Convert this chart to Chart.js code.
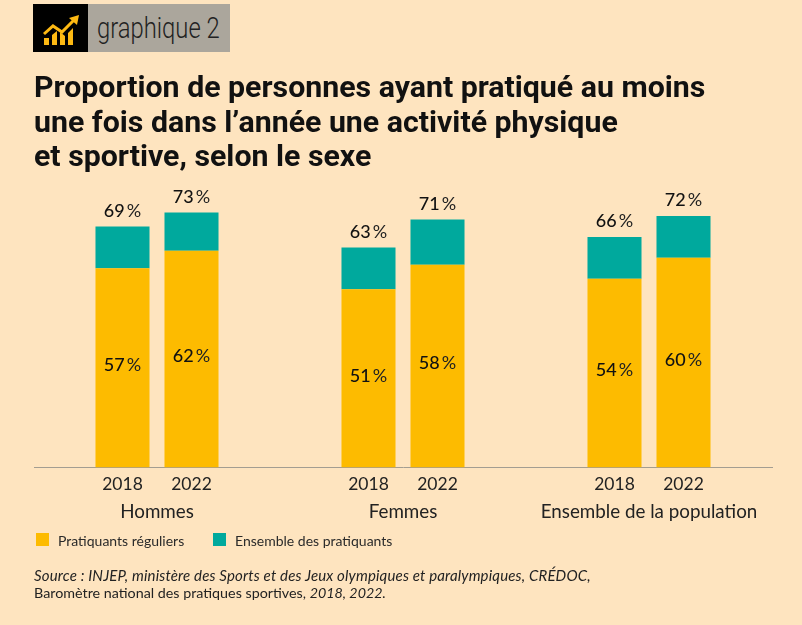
<!DOCTYPE html>
<html lang="fr">
<head>
<meta charset="utf-8">
<title>graphique 2</title>
<script src="https://cdn.jsdelivr.net/npm/chart.js@4"></script>
<style>
html, body { margin: 0; padding: 0; background: #fff; }
#page { position: relative; width: 802px; height: 625px; overflow: hidden; background: #fee4bf; font-family: Lato, sans-serif; color: #1a1a1a; }
#chart { position: absolute; left: 0; top: 0; }
#badge { position: absolute; left: 33px; top: 4px; width: 197px; height: 48px; background: #aba69c; }
#badge .icon { position: absolute; left: 0; top: 0; width: 55px; height: 48px; background: #000; }
#badge .label { position: absolute; left: 64px; top: 7px; font: 300 29px Roboto, sans-serif; color: #222; transform: scaleX(.82); transform-origin: left top; white-space: nowrap; }
h1 { position: absolute; left: 34px; top: 70px; margin: 0; font: 700 30.3px/34.5px Roboto, sans-serif; color: #111; white-space: nowrap; }
#legend { position: absolute; left: 36px; top: 533px; font-size: 14px; color: #2a2a2a; }
#legend span { position: absolute; top: -1px; white-space: nowrap; }
#legend i { position: absolute; top: 0; width: 13px; height: 13px; }
#source { position: absolute; left: 34px; top: 567px; font-size: 14.3px; line-height: 17px; color: #222; white-space: nowrap; }
#source .first { font-size: 15px; letter-spacing: .16px; }
</style>
</head>
<body>
<div id="page">
  <canvas id="chart" width="802" height="625"></canvas>
  <div id="badge">
    <div class="icon">
      <svg width="55" height="48" viewBox="0 0 55 48">
        <path d="M11 41v-7h5v7zM19 41V31l5-4v14zM27 41V28l5 4v9zM35 41V29l5-5v17z" fill="#fdb913"/>
        <path d="M11 30l9-8 9 6 13-13" fill="none" stroke="#fdb913" stroke-width="3"/>
        <path d="M36 14l10-3-2 10z" fill="#fdb913"/>
      </svg>
    </div>
    <div class="label">graphique 2</div>
  </div>
  <h1>Proportion de personnes ayant pratiqué au moins<br>une fois dans l’année une activité physique<br>et sportive, selon le sexe</h1>
  <div id="legend"></div>
  <div id="source"><em class="first">Source : INJEP, ministère des Sports et des Jeux olympiques et paralympiques, CRÉDOC,</em><br>Baromètre national des pratiques sportives, <em>2018, 2022.</em></div>
</div>
<script>
const categories = ['Hommes', 'Femmes', 'Ensemble de la population'];
const years = ['2018', '2022'];
const regular2018 = [57, 51, 54];
const regular2022 = [62, 58, 60];
const total2018 = [69, 63, 66];
const total2022 = [73, 71, 72];
const seriesNames = ['Pratiquants réguliers', 'Ensemble des pratiquants'];

const YELLOW = '#fdbb00';
const TEAL = '#00a99d';

const pct = (ctx, number, x, y, size) => {
    ctx.textBaseline = 'middle';
    ctx.textAlign = 'left';
    ctx.font = `500 ${size}px Lato, sans-serif`;
    const w1 = ctx.measureText(number).width;
    ctx.font = `400 ${size}px Lato, sans-serif`;
    const w2 = ctx.measureText('%').width;
    const start = x - (w1 + 2 + w2) / 2;
    ctx.font = `500 ${size}px Lato, sans-serif`;
    ctx.fillStyle = '#111';
    ctx.fillText(number, start, y);
    ctx.font = `400 ${size}px Lato, sans-serif`;
    ctx.fillStyle = '#222';
    ctx.fillText('%', start + w1 + 2, y);
};

const barLabels = {
    id: 'barLabels',
    afterDatasetsDraw(chart) {
        const ctx = chart.ctx;
        ctx.save();
        [[0, 1, regular2018, total2018, 0], [2, 3, regular2022, total2022, 1]].forEach(([low, high, regular, total, y]) => {
            const lowBars = chart.getDatasetMeta(low).data;
            const highBars = chart.getDatasetMeta(high).data;
            lowBars.forEach((bar, i) => {
                pct(ctx, String(regular[i]), bar.x, (bar.y + bar.base) / 2 - 2.5, 18);
                pct(ctx, String(total[i]), bar.x, highBars[i].y - 15.5, 18);
                ctx.font = '400 17.5px Lato, sans-serif';
                ctx.textAlign = 'center';
                ctx.fillStyle = '#222';
                ctx.fillText(years[y], bar.x, bar.base + 16.5);
            });
        });
        ctx.restore();
    }
};

const chart = new Chart(document.getElementById('chart'), {
    type: 'bar',
    data: {
        labels: categories,
        datasets: [
            { label: seriesNames[0], stack: years[0], data: regular2018, backgroundColor: YELLOW },
            { label: seriesNames[1], stack: years[0], data: total2018.map((v, i) => v - regular2018[i]), backgroundColor: TEAL },
            { label: seriesNames[0], stack: years[1], data: regular2022, backgroundColor: YELLOW },
            { label: seriesNames[1], stack: years[1], data: total2022.map((v, i) => v - regular2022[i]), backgroundColor: TEAL }
        ]
    },
    options: {
        responsive: false,
        animation: false,
        categoryPercentage: 0.561,
        barPercentage: 0.783,
        layout: { padding: { left: 34, right: 30, top: 188, bottom: 69 } },
        plugins: { legend: { display: false }, tooltip: { enabled: false } },
        scales: {
            x: {
                stacked: true,
                grid: { display: false, drawTicks: false },
                border: { color: '#a39d91' },
                ticks: { padding: 33, color: '#222', maxRotation: 0, font: { family: 'Lato, sans-serif', size: 18.8 } }
            },
            y: { stacked: true, display: false, min: 0, max: 80 }
        }
    },
    plugins: [barLabels]
});

// legend sits in the page, colours come from the chart's datasets
const legend = document.getElementById('legend');
[[0, 0, 22], [1, 177, 199]].forEach(([d, boxX, textX]) => {
    const box = document.createElement('i');
    box.style.left = boxX + 'px';
    box.style.background = chart.data.datasets[d].backgroundColor;
    const text = document.createElement('span');
    text.style.left = textX + 'px';
    text.textContent = seriesNames[d];
    legend.append(box, text);
});
</script>
</body>
</html>
